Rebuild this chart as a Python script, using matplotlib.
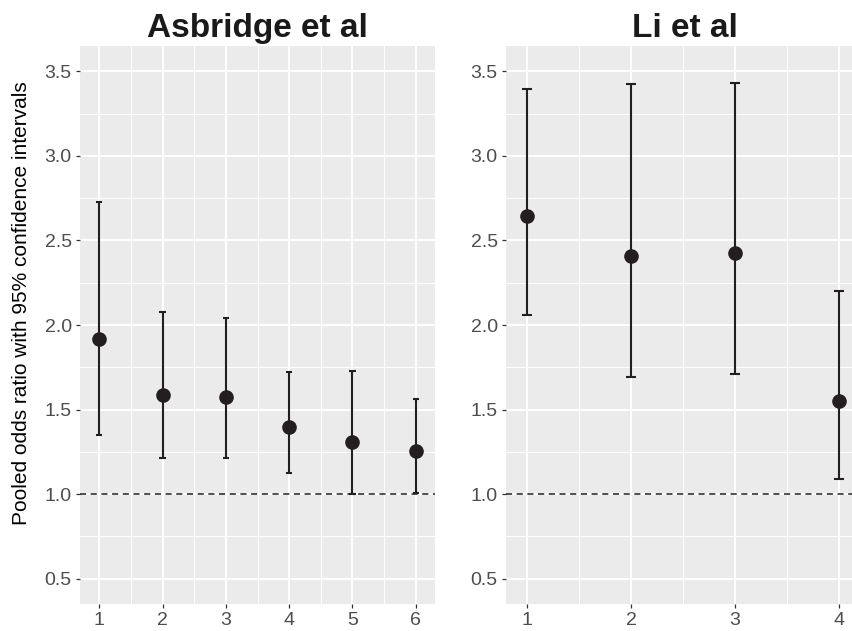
import matplotlib
matplotlib.use('Agg')
from matplotlib import pyplot as plt
from matplotlib.ticker import MultipleLocator

plt.rcParams['font.family'] = ['Liberation Sans', 'DejaVu Sans']

# Asbridge et al
asb_x = [1, 2, 3, 4, 5, 6]
asb_or = [1.92, 1.587, 1.575, 1.396, 1.311, 1.252]
asb_lo = [1.35, 1.215, 1.215, 1.126, 1.0, 1.004]
asb_hi = [2.729, 2.077, 2.044, 1.725, 1.729, 1.563]

# Li et al
li_x = [1, 2, 3, 4]
li_or = [2.647, 2.41, 2.424, 1.551]
li_lo = [2.06, 1.693, 1.711, 1.09]
li_hi = [3.395, 3.425, 3.433, 2.203]

W, H = 853, 631
fig = plt.figure(figsize=(W / 100, H / 100), dpi=100)

ink = '#231F20'
grey = '#4D4D4D'


def panel(left, right, xs, ors, los, his, title, xmin, xmax):
    ax = fig.add_axes([left / W, 1 - 604 / H, (right - left) / W, (604 - 46) / H])
    ax.set_facecolor('#EBEBEB')
    for s in ax.spines.values():
        s.set_visible(False)
    ax.set_xlim(xmin, xmax)
    ax.set_ylim(0.35, 3.65)
    ax.xaxis.set_major_locator(MultipleLocator(1))
    ax.xaxis.set_minor_locator(MultipleLocator(0.5))
    ax.yaxis.set_major_locator(MultipleLocator(0.5))
    ax.yaxis.set_minor_locator(MultipleLocator(0.25))
    ax.grid(which='major', color='white', linewidth=1.4)
    ax.grid(which='minor', color='white', linewidth=0.7)
    ax.set_axisbelow(True)
    ax.tick_params(which='minor', length=0)
    ax.tick_params(which='major', length=3, width=0.9, color='#333333',
                   labelcolor=grey, labelsize=14, pad=3)
    ax.yaxis.set_major_formatter(matplotlib.ticker.FormatStrFormatter('%.1f'))

    ax.axhline(1.0, color=ink, linestyle=(0, (4, 3)), linewidth=1.1, zorder=2)
    ax.vlines(xs, los, his, color=ink, linewidth=1.5, zorder=3)
    ax.hlines(los, [x - 0.05 for x in xs], [x + 0.05 for x in xs], color=ink, linewidth=1.5, zorder=3)
    ax.hlines(his, [x - 0.05 for x in xs], [x + 0.05 for x in xs], color=ink, linewidth=1.5, zorder=3)
    ax.plot(xs, ors, 'o', color=ink, markersize=9.5, zorder=4)
    ax.set_title(title, fontsize=24, fontweight='bold', color='#1A1A1A', pad=6.5)
    return ax


ax1 = panel(80, 435, asb_x, asb_or, asb_lo, asb_hi, 'Asbridge et al', 0.695, 6.305)
fig.text(21.5 / W, 1 - 303 / H, 'Pooled odds ratio with 95% confidence intervals',
         rotation=90, ha='center', va='center', fontsize=15, color='black')

# right panel is clipped by the image edge
ax2 = panel(506, 853, li_x, li_or, li_lo, li_hi, 'Li et al', 0.795, 4.135)
ax2.title.set_position((0.515, 1.0))

fig.savefig('out.png', dpi=100)
